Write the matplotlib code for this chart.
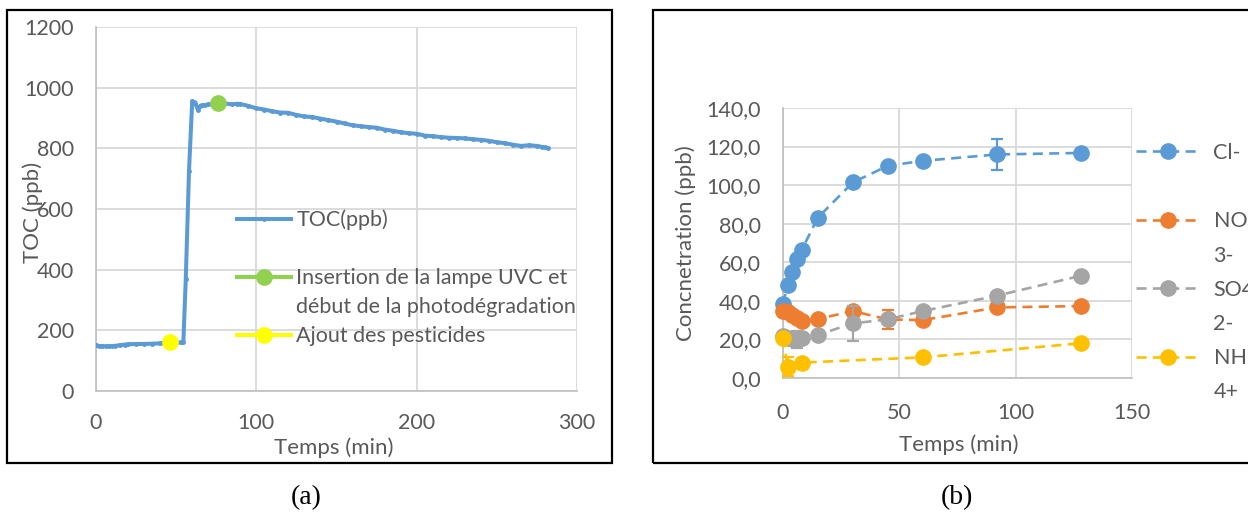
import matplotlib
matplotlib.use("Agg")
import matplotlib.pyplot as plt
from matplotlib.lines import Line2D
from matplotlib.patches import Rectangle
from matplotlib.ticker import FuncFormatter

# ---------------- data ----------------
# Panel (a): TOC vs time
toc_time = [0, 2, 4, 6, 8, 10, 12, 15, 18, 20, 25, 30, 35, 40, 45, 50, 53, 54.5,
            56, 58, 60, 61, 62, 63.5, 65, 66, 68, 70, 73, 76, 80, 85, 88, 90, 95,
            100, 105, 110, 115, 120, 125, 130, 135, 140, 145, 150, 155, 160, 165,
            170, 175, 180, 185, 190, 195, 200, 205, 210, 215, 220, 225, 230, 235,
            240, 245, 250, 255, 260, 265, 270, 275, 278, 280, 282]
toc_ppb = [151, 148, 148, 147, 148, 148, 149, 151, 153, 154, 155, 155, 156, 157,
           158, 159, 160, 163, 370, 725, 955, 952, 948, 928, 940, 942, 942, 945,
           945, 948, 948, 945, 947, 946, 940, 932, 928, 922, 918, 917, 910, 905,
           903, 898, 893, 888, 882, 876, 873, 870, 868, 862, 858, 853, 850, 848,
           842, 840, 837, 835, 834, 833, 830, 828, 825, 820, 817, 812, 808, 810,
           808, 805, 803, 800]
uv_time = [76]
uv_ppb = [948]
pest_time = [46]
pest_ppb = [160]
toc_labels = ["TOC(ppb)", "Insertion de la lampe UVC et",
              "début de la photodégradation", "Ajout des pesticides"]

# Panel (b): ions vs time
ion_time = [0, 2, 4, 6, 8, 15, 30, 45, 60, 92, 128]
cl = [38.5, 48, 55, 61.5, 66.3, 83.2, 101.4, 110, 112.6, 115.9, 116.7]
cl_err = [0, 0, 0, 0, 0, 0, 0, 0, 0, 8, 0]
no3 = [35, 34, 32.5, 31, 29.5, 30.6, 34.7, 30.4, 30, 36.6, 37.3]
no3_err = [0, 0, 0, 0, 0, 0, 0, 5, 0, 0, 0]
so4 = [22, 20.5, 20, 20, 20.5, 22.4, 28.3, 30.4, 34.7, 42.7, 53]
so4_err = [0, 0, 0, 4.5, 0, 0, 9, 0, 0, 0, 0]
nh4_time = [0, 2, 8, 60, 128]
nh4 = [21, 5.9, 8, 10.7, 18]
nh4_err = [0, 5, 0, 0, 0]
ion_labels = ["Cl-", "NO", "3-", "SO4", "2-", "NH", "4+"]

# ---------------- style ----------------
FONT = "Lato"
TXT = "#595959"
GRID = "#D9D9D9"
SPINE = "#BFBFBF"
BLUE = "#5B9BD5"
ORANGE = "#ED7D31"
GRAY = "#A5A5A5"
GOLD = "#FFC000"
GREEN = "#92D050"
YELLOW = "#FFFF00"
FS = 15.5

plt.rcParams["font.family"] = [FONT, "DejaVu Sans"]

W, H = 1248, 515
fig = plt.figure(figsize=(W / 100, H / 100), dpi=100)


def fx(px):
    return px / W


def fy(py):
    return 1 - py / H


def style_axes(ax):
    for s in ("top", "right"):
        ax.spines[s].set_visible(False)
    for s in ("left", "bottom"):
        ax.spines[s].set_color(SPINE)
        ax.spines[s].set_linewidth(1.2)
    ax.grid(True, color=GRID, linewidth=1.3)
    ax.set_axisbelow(True)
    ax.tick_params(length=0, labelsize=FS, labelcolor=TXT)


# Frames around each panel
fig.patches.append(Rectangle((fx(7), fy(463)), fx(612 - 7), (463 - 10) / H,
                             transform=fig.transFigure, fill=False,
                             edgecolor="black", linewidth=1.6))
fig.patches.append(Rectangle((fx(653), fy(463)), fx(1256 - 653), (463 - 10) / H,
                             transform=fig.transFigure, fill=False,
                             edgecolor="black", linewidth=1.6))

# ---------------- panel (a) ----------------
ax1 = fig.add_axes([fx(96), fy(391), fx(577 - 96), (391 - 27) / H])
style_axes(ax1)
ax1.plot(toc_time, toc_ppb, color=BLUE, linewidth=2.9, marker="o",
         markersize=2.5, solid_joinstyle="round", zorder=3)
ax1.plot(uv_time, uv_ppb, linestyle="none", marker="o", markersize=11,
         color=GREEN, zorder=4)
ax1.plot(pest_time, pest_ppb, linestyle="none", marker="o", markersize=11,
         color=YELLOW, zorder=4)
ax1.set_xlim(0, 300)
ax1.set_ylim(0, 1200)
ax1.set_xticks([0, 100, 200, 300])
ax1.set_yticks(range(0, 1201, 200))
ax1.tick_params(axis="x", pad=16)
ax1.tick_params(axis="y", pad=16)
ax1.set_xlabel("Temps (min)", fontsize=FS + 0.5, color=TXT)
ax1.set_ylabel("TOC (ppb)", fontsize=FS + 0.5, color=TXT)
ax1.xaxis.set_label_coords(0.495, -0.128)
ax1.yaxis.set_label_coords(-0.11, 0.49)

h_a = [Line2D([], [], color=BLUE, linewidth=2.9, marker="o", markersize=2.5),
       Line2D([], [], color="none"),
       Line2D([], [], color=GREEN, linewidth=2.9, marker="o", markersize=11),
       Line2D([], [], color="none"),
       Line2D([], [], color=YELLOW, linewidth=2.9, marker="o", markersize=11)]
l_a = [toc_labels[0], "", toc_labels[1], toc_labels[2], toc_labels[3]]
leg_a = fig.legend(h_a, l_a, loc="upper left",
                   bbox_to_anchor=(fx(237), fy(209.5)),
                   bbox_transform=fig.transFigure, frameon=False,
                   fontsize=FS, handlelength=2.5, handletextpad=0.25,
                   labelspacing=0.42, borderpad=0, borderaxespad=0)
for t in leg_a.get_texts():
    t.set_color(TXT)

# ---------------- panel (b) ----------------
ax2 = fig.add_axes([fx(783), fy(378), fx(1132 - 783), (378 - 108) / H])
style_axes(ax2)
dash = (0, (3.8, 2.4))
common = dict(linewidth=1.9, linestyle=dash, marker="o", markersize=11,
              capsize=4.5, elinewidth=1.6, capthick=1.6, clip_on=False)
ax2.errorbar(ion_time, cl, yerr=cl_err, color=BLUE, zorder=3, **common)
ax2.errorbar(ion_time, no3, yerr=no3_err, color=ORANGE, zorder=4, **common)
ax2.errorbar(ion_time, so4, yerr=so4_err, color=GRAY, zorder=5, **common)
ax2.errorbar(nh4_time, nh4, yerr=nh4_err, color=GOLD, zorder=6, **common)
ax2.set_xlim(0, 150)
ax2.set_ylim(0, 140)
ax2.set_xticks([0, 50, 100, 150])
ax2.set_yticks(range(0, 141, 20))
ax2.yaxis.set_major_formatter(FuncFormatter(lambda v, p: f"{v:.1f}".replace(".", ",")))
ax2.tick_params(axis="x", pad=18)
ax2.tick_params(axis="y", pad=16)
ax2.set_xlabel("Temps (min)", fontsize=FS + 0.5, color=TXT)
ax2.set_ylabel("Concnetration (ppb)", fontsize=FS + 0.5, color=TXT)
ax2.xaxis.set_label_coords(0.504, -0.21)
ax2.yaxis.set_label_coords(-0.25, 0.5)


def ion_handle(c):
    return Line2D([], [], color=c, linewidth=1.9, linestyle=dash, marker="o",
                  markersize=11)


blank = Line2D([], [], color="none")
h_b = [ion_handle(BLUE), blank, ion_handle(ORANGE), blank, ion_handle(GRAY),
       blank, ion_handle(GOLD), blank]
l_b = [ion_labels[0], "", ion_labels[1], ion_labels[2], ion_labels[3],
       ion_labels[4], ion_labels[5], ion_labels[6]]
leg_b = fig.legend(h_b, l_b, loc="upper left",
                   bbox_to_anchor=(fx(1136), fy(143)),
                   bbox_transform=fig.transFigure, frameon=False,
                   fontsize=FS, handlelength=3.0, handletextpad=0.6,
                   labelspacing=0.66, borderpad=0, borderaxespad=0)
for t in leg_b.get_texts():
    t.set_color(TXT)

# Captions
fig.text(fx(306), fy(498), "(a)", family="Liberation Serif", fontsize=20,
         ha="center", va="center", color="black")
fig.text(fx(957), fy(498), "(b)", family="Liberation Serif", fontsize=20,
         ha="center", va="center", color="black")

fig.savefig("out.png", dpi=100)
